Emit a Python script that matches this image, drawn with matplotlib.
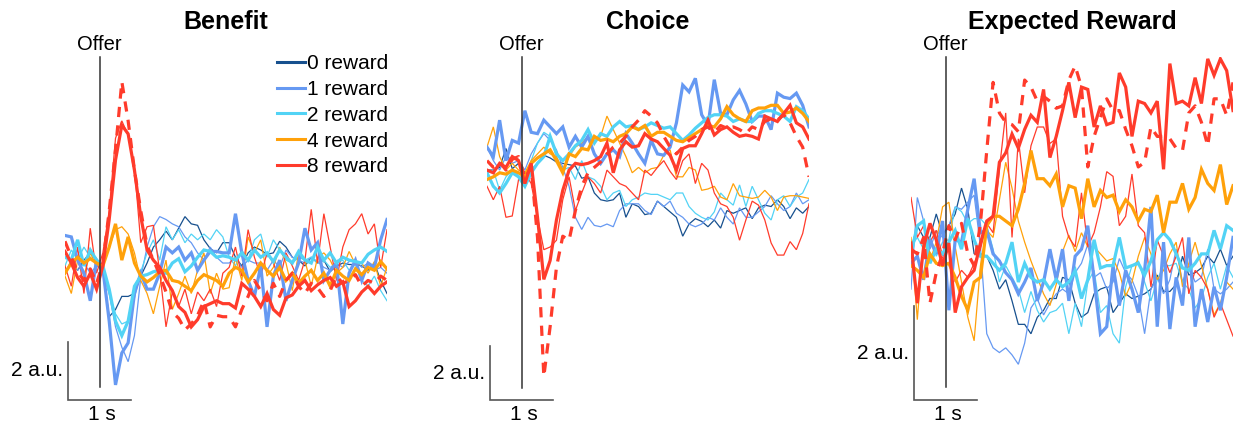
import numpy as np
import matplotlib
matplotlib.use("Agg")
import matplotlib.pyplot as plt
import matplotlib.transforms as mtransforms
from matplotlib.lines import Line2D

plt.rcParams['font.family'] = ['Liberation Sans', 'DejaVu Sans']

# time axis of every trace (s, offer at 0)
T_START, T_END = -0.55, 4.55

titles = ["Benefit", "Choice", "Expected Reward"]
rewards = ["0 reward", "1 reward", "2 reward", "4 reward", "8 reward"]
colors = ["#17508e", "#6699f2", "#52d3f5", "#ffa10a", "#ff3b2b"]

# ---- Benefit (a.u.)
ben_0 = [-0.35, 0.0, -0.25, 0.1, 0.35, 0.1, -0.25, -1.85, -1.6, -1.15, -1.15, -1.05, -0.45, 0.0, 0.55, 0.8, 1.1, 0.8, 1.2, 1.6, 1.35, 1.3, 0.8, 0.5, 0.35, 0.7,
         0.7, 0.2, -0.1, 0.35, 0.55, 0.45, 0.3, 0.35, 0.75, 0.55, 0.2, 0.1, -0.1, 0.2, 0.0, 0.1, -0.3, -0.1, 0.0, -0.05, -0.05, -0.1, -0.25, 0.0, -0.6, -1.05]
ben_1_thin = [-0.35, 0.1, -0.25, 0.0, -0.35, -0.1, -0.25, -1.05, -2.2, -2.9, -3.4, -2.5, -0.5, 0.55, 1.25, 1.6, 1.5, 1.35, 1.25, 0.9, 0.7, 0.35, 0.1, 0.55, 0.2, 0.0,
              0.0, 0.2, -0.15, 0.1, 0.0, 0.0, -0.25, 0.1, -0.15, 0.45, 0.2, 0.1, 0.0, 0.2, 0.05, -0.15, -0.25, 0.0, -0.15, 0.05, 0.1, -0.15, 0.0, -0.25, -0.15, -0.35]
ben_1 = [0.95, 0.9, 0.1, -0.35, -1.3, 0.1, -0.2, -2.0, -4.2, -3.1, -2.75, -1.05, -0.35, -0.9, -0.9, -0.35, 0.55, 0.35, 0.55, 0.1, 0.35, -0.25, 0.1, 0.4, 0.4, 0.35,
         0.35, 1.7, 0.35, -0.6, -1.15, -0.1, -2.2, -0.45, 0.1, -1.3, -0.6, 0.0, 1.2, 0.45, 0.7, -0.6, -0.25, 0.0, -2.1, -0.35, 0.1, -0.6, 0.0, -0.15, 0.8, 1.5]
ben_2_thin = [-0.1, 0.45, 0.1, 0.55, 0.2, 0.0, -0.35, -1.05, -1.75, -2.1, -2.0, -1.2, -0.3, 0.35, 0.8, 0.1, 1.25, 0.8, 1.15, 0.7, 1.0, 0.8, 1.0, 0.8, 1.15, 0.9,
              0.2, -0.1, 0.45, 0.1, 0.8, 1.0, 0.2, 0.8, 0.45, 0.1, 0.0, 0.2, 0.1, 0.2, 0.0, 0.1, -0.15, 0.0, 0.1, -0.25, -0.05, -0.6, -0.8, -0.45, -0.95, -1.3]
ben_2 = [0.2, 0.1, 0.8, -0.1, 0.45, 0.1, -0.1, -0.9, -2.0, -2.5, -2.0, -0.8, -0.45, -0.4, -0.3, -0.25, -0.35, 0.0, 0.15, -0.3, -0.1, 0.2, 0.45, 0.4, 0.2, 0.25,
         0.2, 0.1, 0.35, 0.1, 0.45, 0.2, 0.35, 0.05, 0.45, 0.2, 0.0, 0.4, 0.1, 0.0, 0.55, 0.1, 0.35, 0.0, 0.2, 0.1, 0.05, 0.0, 0.3, 0.45, 0.55, 0.4]
ben_4_thin = [-0.45, -1.05, 0.1, -0.45, 0.35, -0.1, 0.0, 0.55, 1.15, 1.25, 1.0, 0.35, -0.6, -1.05, -1.75, -0.8, 0.1, -1.6, -1.05, -0.45, -1.05, -0.25, 0.35, -1.05, -0.35, -0.9,
              -0.85, 0.2, -0.6, 0.9, 0.35, 0.8, -0.45, -0.15, 0.55, 0.0, -0.95, 0.35, 0.1, -0.8, 0.2, 0.35, 0.1, -0.35, -0.15, 0.4, -0.05, 0.0, -0.35, 0.05, -0.8, -0.15]
ben_4 = [-0.35, 0.0, 0.2, 0.0, 0.15, 0.0, -0.1, 0.55, 1.35, 0.1, 0.9, 0.0, -0.45, -0.65, -0.5, -0.3, -0.25, -0.6, -0.65, -0.8, -0.95, -0.6, -0.4, -0.5, -0.6, -0.8,
         -0.35, -0.15, -0.25, -0.65, -0.35, 0.0, -0.25, -0.45, -0.15, -0.6, -0.35, -0.7, -0.45, -0.25, -0.6, -0.35, -0.8, -0.25, -0.45, -0.6, -0.2, -0.4, -0.15, -0.25, 0.05, -0.2]
ben_8_thin = [-0.1, -0.8, 0.55, -1.05, 1.2, -0.35, 0.35, 1.8, 4.3, 4.9, 4.4, 3.3, 0.7, 1.25, 1.3, -0.3, -2.2, -1.0, -1.5, -0.9, -1.75, -1.0, -1.3, -0.9, -1.5, -0.35,
              -0.15, 0.55, -0.45, 1.15, 0.2, -0.45, 0.35, 0.0, -0.6, 0.35, -0.1, -0.6, 0.1, 1.85, 0.0, 1.7, 0.55, -0.6, 0.55, 1.15, 1.35, 1.7, 1.0, 1.35, -0.15, 1.15]
ben_8 = [0.4, 0.0, -0.5, -0.8, -0.35, -0.9, -0.1, 1.5, 3.55, 4.75, 4.45, 3.2, 1.6, 0.45, 0.1, -0.15, -0.6, -0.95, -1.5, -1.7, -2.2, -1.95, -1.5, -1.4, -1.3, -1.4,
         -1.4, -1.55, -0.7, -0.9, -1.15, -1.5, -1.05, -1.6, -1.8, -1.2, -1.1, -0.8, -0.6, -0.95, -0.75, -0.6, -0.5, -0.8, -0.65, -1.5, -1.3, -1.0, -0.8, -1.05, -0.8, -0.65]
ben_8_dash = [0.75, 0.2, -0.3, -0.6, -0.2, -0.7, 0.0, 1.8, 3.9, 6.25, 4.9, 3.2, 1.8, 0.6, 0.1, -0.4, -1.0, -1.7, -1.9, -2.3, -2.1, -1.8, -1.3, -2.2, -1.8, -1.85,
              -1.85, -2.2, -1.6, -1.15, -0.6, -0.95, -1.3, -0.7, -1.15, -0.6, -0.35, -0.8, -1.05, -0.7, -0.85, -1.15, -0.95, -0.45, -0.7, -0.6, -0.4, -0.8, -0.6, -0.7, -0.45, -0.6]

# ---- Choice (a.u.)
cho_0 = [0.0, 0.0, 0.1, 0.8, 0.05, 0.25, -0.1, 0.0, 0.25, 0.55, 0.45, 0.3, 0.25, 0.2, 0.15, -0.3, -0.25, -0.85, -1.1, -1.15, -1.1, -0.85, -1.75, -1.25, -1.35, -1.65,
         -1.6, -1.15, -1.35, -1.55, -1.75, -2.45, -2.0, -1.8, -1.9, -2.1, -1.85, -2.15, -1.5, -1.6, -1.5, -1.4, -1.8, -1.4, -1.3, -1.35, -1.1, -1.35, -1.8, -1.4, -1.6, -1.35]
cho_1_thin = [0.85, 0.35, 0.0, 0.5, 0.25, 0.35, 0.0, 0.6, 1.0, 1.35, 1.1, 0.75, 0.1, -0.6, -1.75, -2.2, -1.75, -2.05, -2.1, -2.0, -2.1, -1.5, -1.25, -1.25, -1.25, -1.5,
              -1.65, -1.15, -1.35, -1.15, -1.6, -1.75, -2.0, -2.1, -2.0, -1.75, -1.85, -1.4, -1.75, -2.0, -1.4, -1.75, -1.75, -1.55, -1.35, -0.95, -1.25, -1.5, -1.35, -0.85, -1.25, -1.1]
cho_1 = [0.85, 0.5, 1.85, 0.35, 1.1, 1.0, 2.2, 1.4, 1.35, 1.85, 1.6, 1.35, 1.6, 0.85, 1.25, 0.85, 1.25, 0.6, 0.25, 0.6, 0.75, 0.5, 1.35, 1.0, 0.6, 0.25,
         1.1, 0.6, 0.55, 0.85, 1.75, 3.15, 2.9, 3.4, 2.05, 1.65, 3.35, 2.1, 2.05, 2.6, 2.95, 2.45, 1.8, 2.0, 2.0, 1.5, 2.85, 2.7, 2.65, 2.85, 2.4, 1.6]
cho_2_thin = [-0.1, 0.0, -0.75, -0.25, 0.0, -0.2, -0.5, 0.35, 1.0, 1.4, 1.25, 0.5, 0.0, 0.1, -0.35, 0.35, -0.25, -0.35, -0.6, -1.1, -0.85, -0.75, -1.35, -1.1, -1.0, -0.85,
              -0.9, -0.9, -1.0, -1.1, -0.85, -0.85, -1.35, -1.6, -1.75, -1.85, -1.55, -0.85, -1.1, -1.3, -0.55, -1.35, -0.6, -1.1, -1.6, -1.85, -1.1, -0.95, -1.35, -1.0, -0.85, -0.35]
cho_2 = [-0.1, -0.6, -0.85, -0.5, -0.1, -0.25, -0.6, -0.1, 0.25, 0.5, 1.25, 0.6, 0.35, 0.6, 0.9, 1.1, 1.5, 1.0, 1.35, 1.25, 1.6, 1.8, 1.6, 1.65, 1.5, 1.6,
         1.75, 1.65, 1.55, 1.6, 1.35, 1.1, 1.3, 1.55, 1.75, 1.95, 2.05, 2.05, 2.0, 1.8, 1.9, 1.8, 1.8, 2.1, 2.2, 2.2, 2.1, 2.0, 1.8, 2.35, 2.2, 1.9]
cho_4_thin = [0.85, 1.6, 0.5, 0.0, 0.25, 0.0, -0.1, 0.35, 0.6, 0.85, 0.6, 0.5, 0.0, 0.5, 0.85, 1.0, 1.25, 1.0, 1.25, 2.0, 1.5, 1.0, 0.5, -0.1, 0.1, -0.1,
              0.05, 0.1, 0.55, 0.75, -0.25, -0.25, 0.1, 0.0, -0.75, -0.7, -0.6, -1.0, -1.1, -0.5, -0.95, -1.0, -1.05, -1.0, -0.75, -1.0, -1.5, -1.0, -0.95, -0.95, -1.0, -1.05]
cho_4 = [-0.35, -0.25, -0.1, -0.15, 0.0, -0.1, -0.25, 0.25, 0.45, 0.6, 0.75, 0.35, -0.1, 0.6, 0.5, 0.8, 0.75, 1.25, 1.1, 1.15, 1.05, 1.25, 1.35, 1.6, 1.5, 1.65,
         1.25, 1.4, 1.4, 1.25, 1.1, 1.05, 1.2, 1.35, 1.5, 1.65, 1.6, 1.9, 2.35, 2.05, 1.9, 1.8, 2.2, 2.3, 2.3, 2.4, 2.4, 2.1, 2.15, 2.3, 2.1, 1.8]
cho_8_thin = [-0.6, -1.1, -0.6, -1.75, -1.7, -0.35, -0.1, -0.5, -1.75, -2.95, -2.85, -2.6, -1.1, -0.25, -1.5, -0.85, -0.25, -0.5, -0.85, 0.0, -0.25, -0.5, -0.6, -0.85, -1.1, 0.0,
              -0.2, 0.1, 0.35, -0.05, -0.35, 0.35, 0.6, -0.5, 0.25, 0.0, -0.85, -1.25, -1.35, -1.75, -2.6, -1.85, -1.15, -1.3, -1.85, -2.7, -3.15, -3.15, -2.65, -2.95, -2.35, -1.25]
cho_8 = [0.0, -0.1, 0.25, 0.1, 0.5, 0.35, -0.5, 0.25, -1.75, -4.05, -3.35, -1.85, -0.75, 0.0, 0.25, 0.2, 0.25, 0.35, 0.5, 1.0, -0.1, 0.75, 1.05, 0.85, 0.9, 1.35,
         1.15, 1.05, 0.8, 0.55, 0.0, 0.8, 0.9, 0.9, 1.35, 1.85, 1.3, 1.5, 1.6, 1.4, 1.25, 1.3, 1.25, 1.15, 2.0, 1.9, 1.8, 2.1, 2.4, 1.75, 1.6, 1.15]
cho_8_dash = [0.35, 0.1, 0.3, 0.0, 0.4, 0.5, -0.3, 0.1, -2.5, -7.65, -5.8, -3.6, -2.45, -2.6, -1.5, -0.6, -0.1, 0.1, 0.3, 0.6, 0.85, 1.0, 1.25, 1.6, 1.85, 2.2,
              2.0, 1.75, 1.25, 0.85, 0.6, 0.85, 1.1, 1.25, 1.5, 1.6, 1.4, 1.65, 1.55, 1.6, 1.5, 1.35, 1.6, 1.5, 1.8, 1.9, 1.85, 2.05, 1.75, 1.25, 0.85, -0.25]

# ---- Expected Reward (a.u.)
exp_0 = [-0.05, 0.45, 0.2, 0.2, 0.7, 0.25, 0.45, 0.7, 1.25, 0.8, -0.15, -0.15, -0.2, -0.5, -0.9, -0.7, -1.15, -1.65, -1.65, -1.85, -1.5, -1.35, -1.1, -1.1, -0.65, -0.7,
         -1.2, -1.5, -1.4, -1.0, -0.9, -0.85, -1.4, -1.2, -1.0, -1.1, -1.05, -1.0, -0.9, -0.6, -0.95, -0.95, -0.8, -0.2, -0.6, -0.55, -0.45, -0.2, -0.35, -0.05, -0.4, -0.2]
exp_1_thin = [-0.9, 1.05, 0.55, -0.05, 0.35, 0.2, 0.45, 0.85, 0.8, 0.95, 1.1, 0.0, -1.85, -2.15, -2.25, -2.15, -2.3, -2.5, -2.05, -1.3, -1.1, -1.45, -1.2, -1.0, -0.9, -1.0,
              -0.55, -0.35, 0.05, -0.65, -0.55, -0.9, -0.75, -0.25, -0.55, -0.7, -1.05, -1.85, -0.9, -0.65, -1.0, -0.7, -0.05, -0.75, -0.4, -0.75, -0.65, -0.05, -0.9, -1.0, -0.9, -0.75]
exp_1 = [-0.35, -0.2, -0.7, 0.15, -0.15, 0.55, -1.35, 0.15, 0.1, 0.8, 1.45, 0.3, 0.35, -0.15, -0.3, -0.55, -0.7, -1.0, -0.75, -0.45, -1.15, -0.75, -0.05, -0.7, -0.05, -1.15,
         -0.2, -0.05, 0.45, -0.7, -1.85, -1.7, -0.4, -1.25, -0.5, -0.9, -1.4, -0.5, 0.85, -1.7, 0.1, -1.75, -0.65, -1.25, 0.2, -1.7, -0.9, -1.6, -0.85, -1.35, -0.65, 0.2]
exp_2_thin = [0.0, 0.2, -0.05, 0.2, -0.2, 0.1, 0.15, 0.85, 0.75, 0.5, 0.6, 0.6, 0.45, -0.05, -0.75, -0.4, -0.65, -0.9, -1.4, -0.95, -1.35, -1.6, -1.4, -1.35, -1.2, -1.85,
              -1.2, -1.7, -0.75, -0.5, -1.4, -1.25, -1.85, -2.05, -0.85, -0.4, -0.3, -0.75, -1.15, -0.7, -0.4, -0.4, -0.35, -0.75, -0.9, -1.3, -1.1, -0.65, -0.35, -0.9, -0.4, -0.65]
exp_2 = [-0.15, 0.45, 0.55, -0.35, -0.05, -0.15, 0.1, 0.35, -0.05, 0.6, 0.15, -0.2, -0.2, -0.35, -0.5, -0.35, 0.1, -0.75, -0.35, -0.65, -0.75, -0.7, -0.9, -0.7, -0.85, -0.75,
         -0.5, -1.1, -0.7, 0.15, -0.45, -0.4, -0.4, 0.2, -0.45, -0.4, -0.35, -0.6, -0.3, 0.15, 0.3, 0.15, -0.15, -0.45, -0.5, -0.35, -0.15, -0.15, 0.35, -0.05, 0.45, 0.35]
exp_4_thin = [0.2, -1.55, 0.15, -0.3, 0.1, 0.85, 0.95, 0.0, -0.75, -1.5, -2.0, -0.4, 0.35, 0.2, 1.0, 1.8, 1.25, 0.55, 0.1, -0.3, -0.65, -1.0, -1.25, -0.8, -0.1, 0.25,
              -0.1, 0.3, 0.0, 0.0, -0.15, -0.3, -0.25, -0.55, -1.05, -0.75, -0.2, 0.2, -0.15, -0.7, -0.5, -0.15, 0.1, -0.85, -0.35, 0.1, -0.4, -0.9, -1.45, -1.2, -0.75, -0.9]
exp_4 = [-0.4, -0.5, -0.65, -0.15, -0.35, -0.4, -0.35, -0.65, -1.05, -1.35, -0.75, -0.65, 0.45, 0.65, 0.65, 0.55, 0.45, 0.8, 1.35, 2.05, 1.45, 1.45, 1.3, 1.55, 0.85, 1.3,
         1.25, 0.6, 1.45, 0.85, 1.2, 1.05, 1.1, 0.75, 1.0, 0.85, 0.55, 0.8, 0.75, 1.1, 0.3, 0.95, 0.95, 1.35, 0.8, 1.05, 1.65, 1.35, 1.2, 1.75, 0.9, 1.3]
exp_8_thin = [1.05, 0.2, 0.45, 0.1, 0.35, -0.2, -0.05, -0.75, -0.5, -0.65, -0.35, -0.05, 0.5, 0.3, 1.65, 2.85, 0.2, 2.3, 1.15, 2.15, 2.55, 2.55, 2.2, 2.3, 0.65, 0.2,
              0.0, 1.15, 0.0, 0.3, 0.85, 1.6, 1.5, 0.45, 0.65, 1.55, 0.45, 0.3, -0.85, 0.15, -0.2, -0.55, -0.2, 0.2, -1.0, -0.5, -0.65, -0.9, -1.5, -1.2, -1.55, -1.9]
exp_8 = [0.08, -1.2, 0.0, 0.5, 0.15, -0.4, 0.08, -1.4, -0.85, -0.65, -0.5, 0.08, 0.55, 0.65, 1.8, 2.0, 2.4, 2.1, 2.5, 2.8, 2.65, 3.35, 1.9, 2.35, 2.9, 3.5,
         2.75, 3.4, 3.35, 2.55, 3.0, 2.6, 2.65, 3.7, 3.4, 2.35, 3.1, 3.05, 2.85, 3.1, 1.65, 3.9, 3.05, 3.1, 3.0, 3.6, 3.05, 4.0, 3.65, 4.0, 3.75, 2.9]
exp_8_dash = [-0.05, -0.15, 0.2, -1.2, -0.55, -0.15, 0.45, 0.15, 0.5, -0.15, -0.4, 0.5, 2.05, 3.5, 2.85, 2.65, 2.6, 2.45, 3.55, 3.4, 3.1, 3.2, 3.1, 2.95, 3.0, 3.55,
              3.85, 3.4, 1.7, 2.35, 2.75, 3.15, 2.9, 2.9, 2.5, 2.15, 1.7, 1.8, 2.55, 2.35, 2.35, 2.3, 2.1, 2.05, 2.85, 3.0, 2.65, 2.15, 3.15, 3.15, 2.8, 3.5]

# y range of each panel (a.u.) and where the offer line stops at the bottom
ylims = [(-4.72, 7.10), (-8.52, 4.19), (-3.26, 4.04)]
offer_bottom = [-4.28, -8.07, -2.98]

panels = [
    dict(thin=[ben_0, ben_1_thin, ben_2_thin, ben_4_thin, ben_8_thin],
         thick=[ben_1, ben_2, ben_4], red=ben_8, dash=ben_8_dash),
    dict(thin=[cho_0, cho_1_thin, cho_2_thin, cho_4_thin, cho_8_thin],
         thick=[cho_1, cho_2, cho_4], red=cho_8, dash=cho_8_dash),
    dict(thin=[exp_0, exp_1_thin, exp_2_thin, exp_4_thin, exp_8_thin],
         thick=[exp_1, exp_2, exp_4], red=exp_8, dash=exp_8_dash),
]

W, H = 1241, 425
fig = plt.figure(figsize=(W / 100, H / 100), dpi=100)
lefts = [65, 487, 911]


def tline(ax, vals, **kw):
    t = np.linspace(T_START, T_END, len(vals))
    ax.plot(t, vals, solid_joinstyle='miter', **kw)


for k, p in enumerate(panels):
    ax = fig.add_axes([lefts[k] / W, 25 / H, 322 / W, 343 / H])
    ax.set_xlim(T_START, T_END)
    ax.set_ylim(*ylims[k])
    ax.axis('off')

    for c, vals in zip(colors, p['thin']):
        tline(ax, vals, color=c, lw=0.9)
    for c, vals in zip(colors[1:4], p['thick']):
        tline(ax, vals, color=c, lw=2.3)
    tline(ax, p['dash'], color=colors[4], lw=2.3, dashes=(3.2, 2.6))
    tline(ax, p['red'], color=colors[4], lw=2.3)

    # offer line
    lo, hi = ylims[k]
    ax.plot([0, 0], [offer_bottom[k], hi], color='#333333', lw=1.1, clip_on=False)
    tr = mtransforms.blended_transform_factory(ax.transData, fig.transFigure)
    ax.text(0, 1 - 45 / H, "Offer", transform=tr, ha='center', va='center', fontsize=14.5)

    # scale bars: 1 s and 2 a.u.
    ax.plot([-0.5, -0.5, 0.5], [lo + 2, lo, lo], color='#555555', lw=1.2,
            clip_on=False, solid_joinstyle='miter')
    ax.text(-0.58, lo + 1, "2 a.u.", ha='right', va='center', fontsize=15)
    ax.text(0.03, 1 - 415 / H, "1 s", transform=tr, ha='center', va='center', fontsize=15)

    fig.text((lefts[k] + 161) / W, 1 - 22 / H, titles[k], ha='center', va='center',
             fontsize=18, fontweight='bold')

handles = [Line2D([], [], color=c, lw=2.2) for c in colors]
fig.legend(handles, rewards, loc='upper right', bbox_to_anchor=(388 / W, 1 - 54 / H),
           frameon=False, fontsize=15, handlelength=1.35, handletextpad=0.1,
           labelspacing=0.33, borderpad=0, borderaxespad=0)

fig.savefig("out.png", dpi=100)
